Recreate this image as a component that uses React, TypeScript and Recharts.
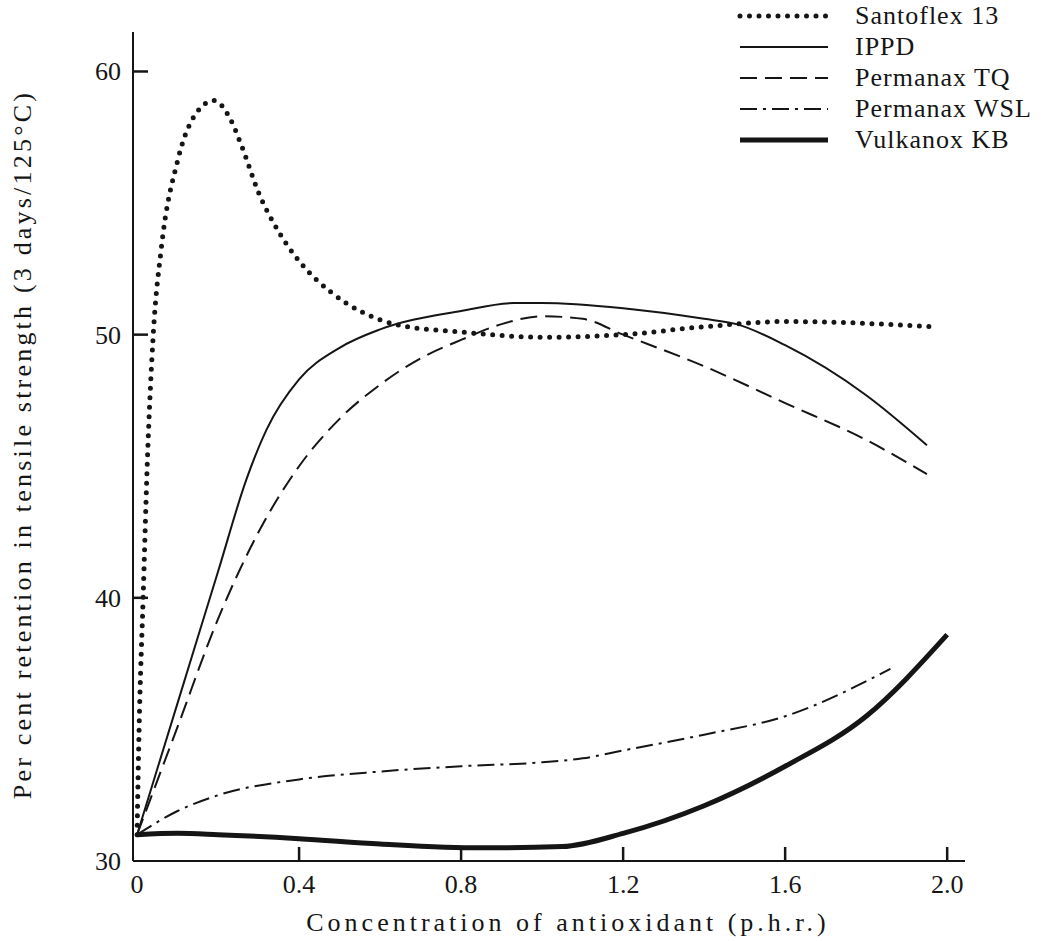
import { LineChart, Line, XAxis, YAxis, Label } from 'recharts';

const santoflexX = [0, 0.005, 0.015, 0.025, 0.04, 0.06, 0.1, 0.15, 0.19, 0.23, 0.26, 0.3, 0.35, 0.4, 0.48, 0.55, 0.65, 0.8, 1.0, 1.2, 1.4, 1.6, 1.97];
const santoflexY = [31, 35, 40, 45, 50, 53.3, 56.6, 58.5, 58.9, 58.2, 57.1, 55.4, 53.9, 52.8, 51.6, 50.9, 50.35, 50.1, 49.9, 50.0, 50.3, 50.5, 50.3];

const ippdX = [0, 0.1, 0.2, 0.27, 0.32, 0.4, 0.5, 0.6, 0.8, 0.93, 1.0, 1.2, 1.4, 1.48, 1.6, 1.8, 1.95];
const ippdY = [31, 36.0, 41.0, 44.5, 46.4, 48.3, 49.5, 50.2, 50.9, 51.2, 51.2, 51.0, 50.6, 50.4, 49.6, 47.7, 45.8];

const tqX = [0, 0.1, 0.2, 0.3, 0.4, 0.5, 0.6, 0.7, 0.8, 0.9, 1.0, 1.1, 1.2, 1.4, 1.6, 1.8, 1.95];
const tqY = [31, 35.1, 39.2, 42.5, 45.0, 46.8, 48.1, 49.1, 49.8, 50.4, 50.7, 50.6, 50.0, 48.8, 47.4, 46.0, 44.7];

const wslX = [0, 0.1, 0.2, 0.4, 0.6, 0.8, 1.0, 1.1, 1.2, 1.4, 1.6, 1.86];
const wslY = [31, 31.9, 32.5, 33.1, 33.4, 33.6, 33.75, 33.9, 34.2, 34.8, 35.5, 37.3];

const vulkX = [0, 0.1, 0.2, 0.4, 0.6, 0.85, 1.05, 1.2, 1.4, 1.6, 1.8, 2.0];
const vulkY = [31, 31.05, 31.0, 30.85, 30.65, 30.5, 30.55, 31.05, 32.1, 33.6, 35.5, 38.6];

const xTicks = [0, 0.4, 0.8, 1.2, 1.6, 2.0];
const xTickLabels = ['0', '0.4', '0.8', '1.2', '1.6', '2.0'];
const yTicks = [30, 40, 50, 60];

const toRows = (xs: number[], ys: number[]) => xs.map((x, i) => ({ x, y: ys[i] }));

const series = [
  { name: 'Santoflex 13', data: toRows(santoflexX, santoflexY), width: 5, dash: '0 9.5', cap: 'round' },
  { name: 'IPPD', data: toRows(ippdX, ippdY), width: 2, dash: undefined, cap: 'butt' },
  { name: 'Permanax TQ', data: toRows(tqX, tqY), width: 2, dash: '17 8', cap: 'butt' },
  { name: 'Permanax WSL', data: toRows(wslX, wslY), width: 2, dash: '17 6 3 6', cap: 'butt' },
  { name: 'Vulkanox KB', data: toRows(vulkX, vulkY), width: 5, dash: undefined, cap: 'butt' },
];

const FONT = '"Liberation Serif", "DejaVu Serif", serif';
const INK = '#151515';

const XTick = (props: any) => {
  const { x, y, payload } = props;
  const i = xTicks.indexOf(payload.value);
  return (
    <g>
      {i > 0 && <line x1={x} y1={y} x2={x} y2={y - 14} stroke={INK} strokeWidth={2.5} />}
      <text x={x} y={y + 32} textAnchor="middle" fontFamily={FONT} fontSize={26} fill={INK}>
        {xTickLabels[i] ?? payload.value}
      </text>
    </g>
  );
};

const YTick = (props: any) => {
  const { x, y, payload } = props;
  return (
    <g>
      {payload.value !== 30 && <line x1={x} y1={y} x2={x + 15} y2={y} stroke={INK} strokeWidth={2.5} />}
      <text x={x - 12} y={y + 9} textAnchor="end" fontFamily={FONT} fontSize={26} fill={INK}>
        {payload.value}
      </text>
    </g>
  );
};

const LegendBox = () => (
  <div style={{ position: 'absolute', top: 0, left: 735, fontFamily: FONT, fontSize: 26, color: INK }}>
    {series.map((s) => (
      <div key={s.name} style={{ display: 'flex', alignItems: 'center', height: 31 }}>
        <svg width={120} height={31}>
          <line
            x1={5}
            y1={16}
            x2={93}
            y2={16}
            stroke={INK}
            strokeWidth={s.width}
            strokeDasharray={s.dash}
            strokeLinecap={s.cap as any}
          />
        </svg>
        <span style={{ letterSpacing: 1 }}>{s.name}</span>
      </div>
    ))}
  </div>
);

export default function App() {
  return (
    <div style={{ position: 'absolute', left: 0, top: 0, width: 1045, height: 941, background: '#fff' }}>
      <LineChart width={1045} height={941} margin={{ top: 32, right: 80, bottom: 0, left: 0 }}>
        <XAxis
          type="number"
          dataKey="x"
          domain={[-0.01, 2.044]}
          ticks={xTicks}
          allowDataOverflow
          height={80}
          tickSize={0}
          tickMargin={0}
          tickLine={false}
          axisLine={{ stroke: INK, strokeWidth: 2 }}
          tick={<XTick />}
          interval={0}
        >
          <Label
            content={(p: any) => {
              const vb = p.viewBox;
              return (
                <text
                  x={568}
                  y={vb.y + 70}
                  textAnchor="middle"
                  fontFamily={FONT}
                  fontSize={26}
                  fill={INK}
                  letterSpacing={4}
                >
                  Concentration of antioxidant (p.h.r.)
                </text>
              );
            }}
          />
        </XAxis>
        <YAxis
          type="number"
          domain={[30, 61.5]}
          ticks={yTicks}
          allowDataOverflow
          width={133}
          tickSize={0}
          tickMargin={0}
          tickLine={false}
          axisLine={{ stroke: INK, strokeWidth: 2 }}
          tick={<YTick />}
          interval={0}
        >
          <Label
            content={(p: any) => {
              const vb = p.viewBox;
              const cx = 22;
              const cy = vb.y + vb.height / 2 - 2;
              return (
                <text
                  x={cx}
                  y={cy}
                  transform={`rotate(-90, ${cx}, ${cy})`}
                  textAnchor="middle"
                  dominantBaseline="central"
                  fontFamily={FONT}
                  fontSize={26}
                  fill={INK}
                  letterSpacing={3.2}
                >
                  Per cent retention in tensile strength (3 days/125°C)
                </text>
              );
            }}
          />
        </YAxis>
        {series.map((s) => (
          <Line
            key={s.name}
            data={s.data}
            dataKey="y"
            name={s.name}
            type="monotone"
            stroke={INK}
            strokeWidth={s.width}
            strokeDasharray={s.dash}
            strokeLinecap={s.cap as any}
            dot={false}
            activeDot={false}
            isAnimationActive={false}
          />
        ))}
      </LineChart>
      <LegendBox />
    </div>
  );
}
